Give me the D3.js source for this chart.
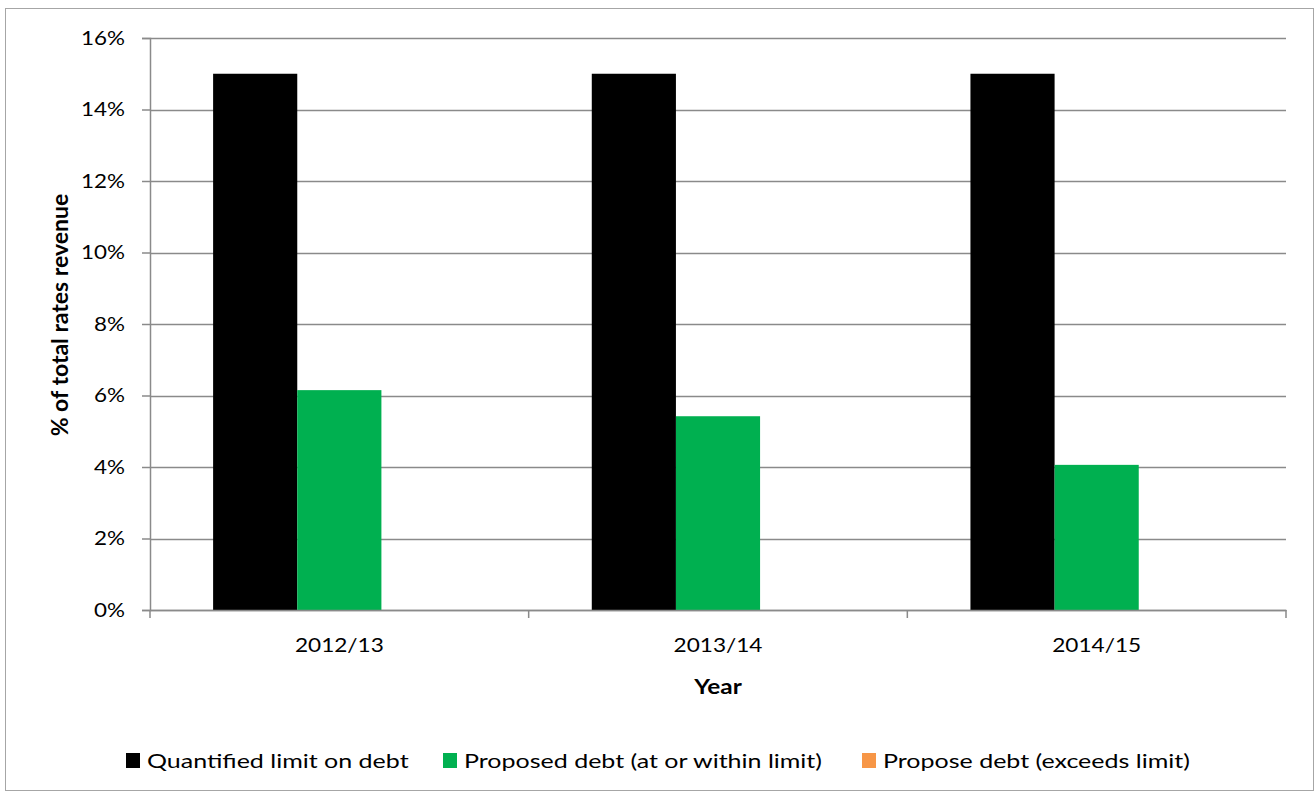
<!DOCTYPE html>
<html>
<head>
<meta charset="utf-8">
<script src="https://cdn.jsdelivr.net/npm/d3@7/dist/d3.min.js"></script>
<style>
  html, body { margin: 0; padding: 0; background: #fff; }
  svg { display: block; font-family: Lato, "Open Sans", sans-serif; }
</style>
</head>
<body>
<svg id="chart" width="1314" height="791"></svg>
<script>
// Debt as a share of total rates revenue, by year
const years = ["2012/13", "2013/14", "2014/15"];
const seriesNames = [
  "Quantified limit on debt",
  "Proposed debt (at or within limit)",
  "Propose debt (exceeds limit)"
];
const seriesColors = ["#000000", "#00b050", "#f79646"];
const limitValues = [15, 15, 15];
const withinValues = [6.15, 5.42, 4.06];
const exceedsValues = [0, 0, 0];
const yTicks = [0, 2, 4, 6, 8, 10, 12, 14, 16];

const seriesValues = [limitValues, withinValues, exceedsValues];

const svg = d3.select("#chart");
const W = 1314, H = 791;
const FONT = 20;

// widen horizontal text a little to give the broad label look
function stretch(sel, factor) {
  sel.each(function () {
    const w = this.getComputedTextLength();
    d3.select(this)
      .attr("textLength", w * factor)
      .attr("lengthAdjust", "spacingAndGlyphs");
  });
}

// outer chart border
svg.append("rect")
  .attr("x", 5.5).attr("y", 8.5)
  .attr("width", W - 6).attr("height", H - 9)
  .attr("fill", "#fff").attr("stroke", "#a6a6a6").attr("stroke-width", 1);

const plot = { left: 150, right: 1286, top: 38, bottom: 610 };

const x = d3.scaleBand().domain(years)
  .range([plot.left, plot.right]).paddingInner(0).paddingOuter(0);
const xInner = d3.scaleBand().domain(d3.range(seriesNames.length))
  .range([0, x.bandwidth()]).paddingOuter(0.75).paddingInner(0);
const y = d3.scaleLinear().domain([0, 16]).range([plot.bottom, plot.top]);

// horizontal gridlines
svg.append("g")
  .selectAll("line")
  .data(yTicks)
  .join("line")
  .attr("x1", plot.left).attr("x2", plot.right)
  .attr("y1", d => Math.round(y(d)) + 0.5).attr("y2", d => Math.round(y(d)) + 0.5)
  .attr("stroke", "#8a8a8a").attr("stroke-width", 1.5);

// bars
const groups = svg.append("g")
  .selectAll("g")
  .data(years)
  .join("g")
  .attr("transform", d => `translate(${x(d)},0)`);

groups.selectAll("rect")
  .data((d, i) => seriesValues.map((vals, s) => ({ s, v: vals[i] })))
  .join("rect")
  .attr("x", d => xInner(d.s))
  .attr("width", xInner.bandwidth())
  .attr("y", d => y(d.v))
  .attr("height", d => y(0) - y(d.v))
  .attr("fill", d => seriesColors[d.s]);

// y axis
const yAxis = svg.append("g")
  .attr("transform", `translate(${plot.left},0)`)
  .call(d3.axisLeft(y).tickValues(yTicks).tickFormat(d => d + "%").tickSize(8).tickPadding(17));
yAxis.select(".domain").attr("stroke", "#8a8a8a").attr("stroke-width", 1.5);
yAxis.selectAll(".tick line").attr("stroke", "#8a8a8a").attr("stroke-width", 1.5);
yAxis.selectAll(".tick text")
  .attr("font-size", FONT).attr("fill", "#000")
  .attr("font-family", "Lato, 'Open Sans', sans-serif")
  .call(stretch, 1.12);

// x axis
const xAxis = svg.append("g")
  .attr("transform", `translate(0,${plot.bottom})`)
  .call(d3.axisBottom(x).tickSize(0).tickPadding(0));
xAxis.select(".domain").attr("stroke", "#8a8a8a").attr("stroke-width", 1.5);
xAxis.selectAll(".tick text")
  .attr("dy", null).attr("y", 42)
  .attr("font-size", FONT).attr("fill", "#000")
  .attr("font-family", "Lato, 'Open Sans', sans-serif")
  .call(stretch, 1.13);

// category boundary tick marks
const boundaries = years.map(d => x(d)).concat([x(years[years.length - 1]) + x.bandwidth()]);
svg.append("g")
  .selectAll("line")
  .data(boundaries)
  .join("line")
  .attr("x1", d => d).attr("x2", d => d)
  .attr("y1", plot.bottom).attr("y2", plot.bottom + 8)
  .attr("stroke", "#8a8a8a").attr("stroke-width", 1.5);

// axis titles
svg.append("text")
  .attr("x", (plot.left + plot.right) / 2).attr("y", 694)
  .attr("text-anchor", "middle")
  .attr("font-size", FONT).attr("font-weight", "bold")
  .text("Year")
  .call(stretch, 1.22);

svg.append("text")
  .attr("transform", "translate(68,315) rotate(-90)")
  .attr("text-anchor", "middle")
  .attr("font-size", 23).attr("font-weight", "bold")
  .text("% of total rates revenue");

// legend
const legendX = [126, 443, 862];
const legend = svg.append("g")
  .selectAll("g")
  .data(seriesNames)
  .join("g")
  .attr("transform", (d, i) => `translate(${legendX[i]},753)`);
legend.append("rect")
  .attr("width", 14).attr("height", 15)
  .attr("fill", (d, i) => seriesColors[i]);
legend.append("text")
  .attr("x", 21).attr("y", 15)
  .attr("font-size", FONT)
  .text(d => d)
  .call(stretch, 1.25);
</script>
</body>
</html>
